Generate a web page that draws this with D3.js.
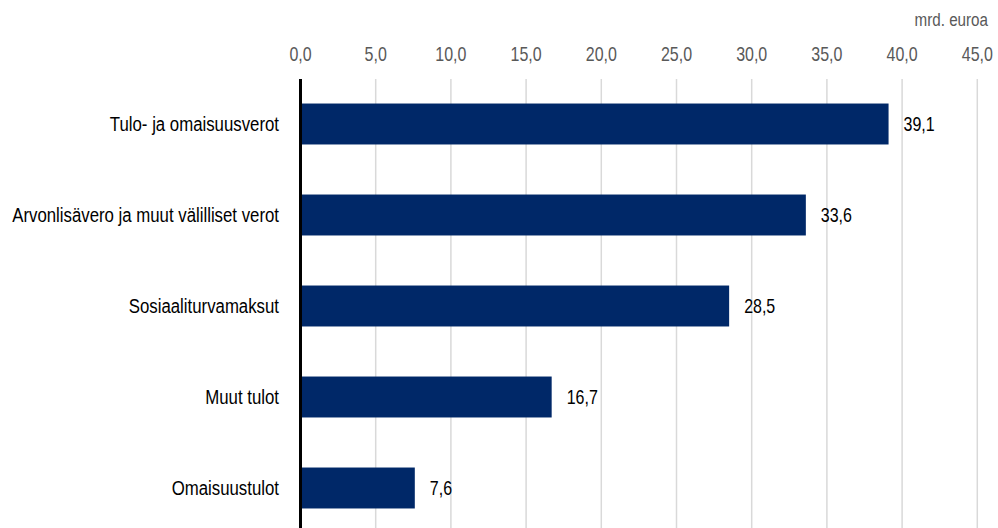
<!DOCTYPE html>
<html><head><meta charset="utf-8">
<script src="https://cdn.jsdelivr.net/npm/d3@7"></script>
<style>
body{margin:0;background:#fff;}
text{font-family:"Liberation Sans",Arial,sans-serif;}
</style></head><body>
<svg id="c" width="998" height="528"></svg>
<script>
const categories = ["Tulo- ja omaisuusverot","Arvonlisävero ja muut välilliset verot","Sosiaaliturvamaksut","Muut tulot","Omaisuustulot"];
const values = [39.1, 33.6, 28.5, 16.7, 7.6];
const tickValues = [0,5,10,15,20,25,30,35,40,45];
const unitLabel = "mrd. euroa";

const svg = d3.select("#c");
const x = d3.scaleLinear().domain([0,45]).range([300.5,977.3]);
const y = d3.scaleBand().domain(categories).range([78.5,533.5]).paddingInner(0.55).paddingOuter(0.275);
const fmt = v => d3.format(".1f")(v).replace(".", ",");

const FS = 21;
// condensed look: measure longest label and compress horizontally
const probe = svg.append("text").attr("font-size",FS).text(categories[1]);
const k = 267 / probe.node().getComputedTextLength();
probe.remove();

function label(g, tx, ty, txt, opts){
  return g.append("text")
    .attr("transform",`translate(${tx},${ty}) scale(${k},1)`)
    .attr("font-size",opts.fs||FS).attr("fill",opts.fill||"#000")
    .attr("text-anchor",opts.anchor||"start")
    .attr("dy",opts.dy||"0.35em").text(txt);
}

// gridlines
svg.append("g").selectAll("line").data(tickValues.slice(1)).join("line")
  .attr("x1",d=>x(d)).attr("x2",d=>x(d)).attr("y1",79).attr("y2",528)
  .attr("stroke","#d9d9d9").attr("stroke-width",1.5);

// top tick labels
const gt = svg.append("g");
tickValues.forEach(v => label(gt, x(v), 61, fmt(v), {fs:20, fill:"#595959", anchor:"middle", dy:"0"}));
label(gt, 988, 26, unitLabel, {fs:19, fill:"#595959", anchor:"end", dy:"0"});

// bars
svg.append("g").selectAll("rect").data(values).join("rect")
  .attr("x",x(0)).attr("y",(d,i)=>y(categories[i]))
  .attr("width",d=>x(d)-x(0)).attr("height",y.bandwidth())
  .attr("fill","#002868");

// value labels
const gv = svg.append("g");
values.forEach((v,i) => label(gv, x(v)+15, y(categories[i])+y.bandwidth()/2, fmt(v), {fs:20}));

// category labels
const gc = svg.append("g");
categories.forEach(c => label(gc, 279, y(c)+y.bandwidth()/2, c, {anchor:"end"}));

// axis line
svg.append("line").attr("x1",x(0)).attr("x2",x(0)).attr("y1",79).attr("y2",528)
  .attr("stroke","#000").attr("stroke-width",3);
</script></body></html>
